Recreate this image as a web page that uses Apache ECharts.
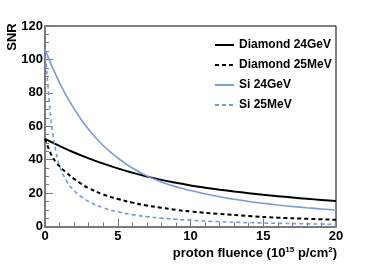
<!DOCTYPE html>
<html><head><meta charset="utf-8">
<script src="https://cdn.jsdelivr.net/npm/echarts@6/dist/echarts.min.js"></script>
<style>html,body{margin:0;padding:0;background:#fff}#c{width:374px;height:268px}</style>
</head><body><div id="c"></div>
<script>
// 24 GeV curves: read at every unit of fluence
var fluence24GeV = [0,1,2,3,4,5,6,7,8,9,10,11,12,13,14,15,16,17,18,19,20];
var diamond24GeV = [52.5,48.2,44.3,40.8,37.65,34.8,32.25,29.95,27.9,26.15,24.6,23.25,22.05,20.95,19.95,19.0,18.15,17.35,16.6,15.9,15.3];
var si24GeV = [106,86,70.5,58,48.5,41,35,30.3,26.7,23.8,21.5,19.55,17.8,16.3,15.0,13.9,12.9,12.0,11.2,10.5,9.9];
// 25 MeV curves: read more finely near zero fluence
var fluence25MeV = [0,0.1,0.2,0.3,0.4,0.5,0.75,1,1.5,2,2.5,3,4,5,6,7,8,9,10,12,14,16,18,20];
var diamond25MeV = [52.5,50.0,47.6,45.5,43.5,41.8,38.5,36.0,32.0,28.5,25.5,23.0,19.2,16.5,14.3,12.6,11.2,10.0,9.0,7.5,6.3,5.3,4.6,4.0];
var si25MeV = [106,95,84,74,65,57.5,45,36.5,27,21.5,17.8,15.0,11.2,8.8,7.1,5.9,5.0,4.3,3.7,2.9,2.3,1.9,1.6,1.3];
var seriesNames = ['Diamond 24GeV','Diamond 25MeV','Si 24GeV','Si 25MeV'];
var xTicks = [0,5,10,15,20];
var yTicks = [0,20,40,60,80,100,120];

function pairs(xs, ys){ return xs.map(function(x,i){ return [x, ys[i]]; }); }
var BLUE = '#7a9bd8';
var FONT = '"Liberation Sans", Arial, Helvetica, sans-serif';
var chart = echarts.init(document.getElementById('c'));
function mkSeries(name, xs, ys, color, width, type){
  return {name:name, type:'line', data:pairs(xs, ys), showSymbol:false, symbol:'none',
    smooth:0.5, color:color,
    lineStyle:{color:color, width:width, type:type}, z:3};
}
chart.setOption({
  animation:false,
  backgroundColor:'#fff',
  grid:{left:45, right:38, top:26, bottom:41.5, show:true, borderColor:'#000', borderWidth:1, backgroundColor:'transparent'},
  xAxis:{type:'value', min:xTicks[0], max:xTicks[xTicks.length-1], interval:5,
    axisLine:{show:true, lineStyle:{color:'#7a7a7a', width:2}},
    axisTick:{show:true, inside:true, length:8, lineStyle:{color:'#7a7a7a', width:1}},
    minorTick:{show:true, splitNumber:5, length:4, lineStyle:{color:'#7a7a7a', width:1}},
    splitLine:{show:false},
    axisLabel:{color:'#000', fontFamily:FONT, fontWeight:'bold', fontSize:13, margin:3}},
  yAxis:{type:'value', min:yTicks[0], max:yTicks[yTicks.length-1], interval:20,
    axisLine:{show:true, lineStyle:{color:'#7a7a7a', width:2}},
    axisTick:{show:true, inside:true, length:8, lineStyle:{color:'#7a7a7a', width:1}},
    minorTick:{show:true, splitNumber:4, length:4, lineStyle:{color:'#7a7a7a', width:1}},
    splitLine:{show:false},
    axisLabel:{color:'#000', fontFamily:FONT, fontWeight:'bold', fontSize:13, margin:2}},
  legend:{orient:'vertical', left:209, top:33, itemWidth:19, itemHeight:14, itemGap:6,
    data:seriesNames, itemStyle:{opacity:0},
    textStyle:{color:'#000', fontFamily:FONT, fontWeight:'bold', fontSize:12, lineHeight:14, padding:[0,0,0,0]}},
  series:[
    mkSeries(seriesNames[0], fluence24GeV, diamond24GeV, '#000', 2, 'solid'),
    mkSeries(seriesNames[1], fluence25MeV, diamond25MeV, '#000', 2, [4,3]),
    mkSeries(seriesNames[2], fluence24GeV, si24GeV, BLUE, 1.6, 'solid'),
    mkSeries(seriesNames[3], fluence25MeV, si25MeV, BLUE, 1.6, [4,3])
  ],
  graphic:[
    {type:'text', x:12, y:37, rotation:Math.PI/2,
      style:{text:'SNR', fill:'#000', font:'bold 13px '+FONT, align:'center', verticalAlign:'middle'}},
    {type:'text', x:337, y:253,
      style:{text:'{a|proton fluence (10}{s|15}{a| p/cm}{s|2}{a|)}', align:'right', verticalAlign:'middle',
        rich:{a:{fontFamily:FONT, fontWeight:'bold', fontSize:13, fill:'#000', color:'#000'},
              s:{fontFamily:FONT, fontWeight:'bold', fontSize:8, fill:'#000', color:'#000', verticalAlign:'top', padding:[0,0,6,0]}}}}
  ]
});
</script></body></html>
